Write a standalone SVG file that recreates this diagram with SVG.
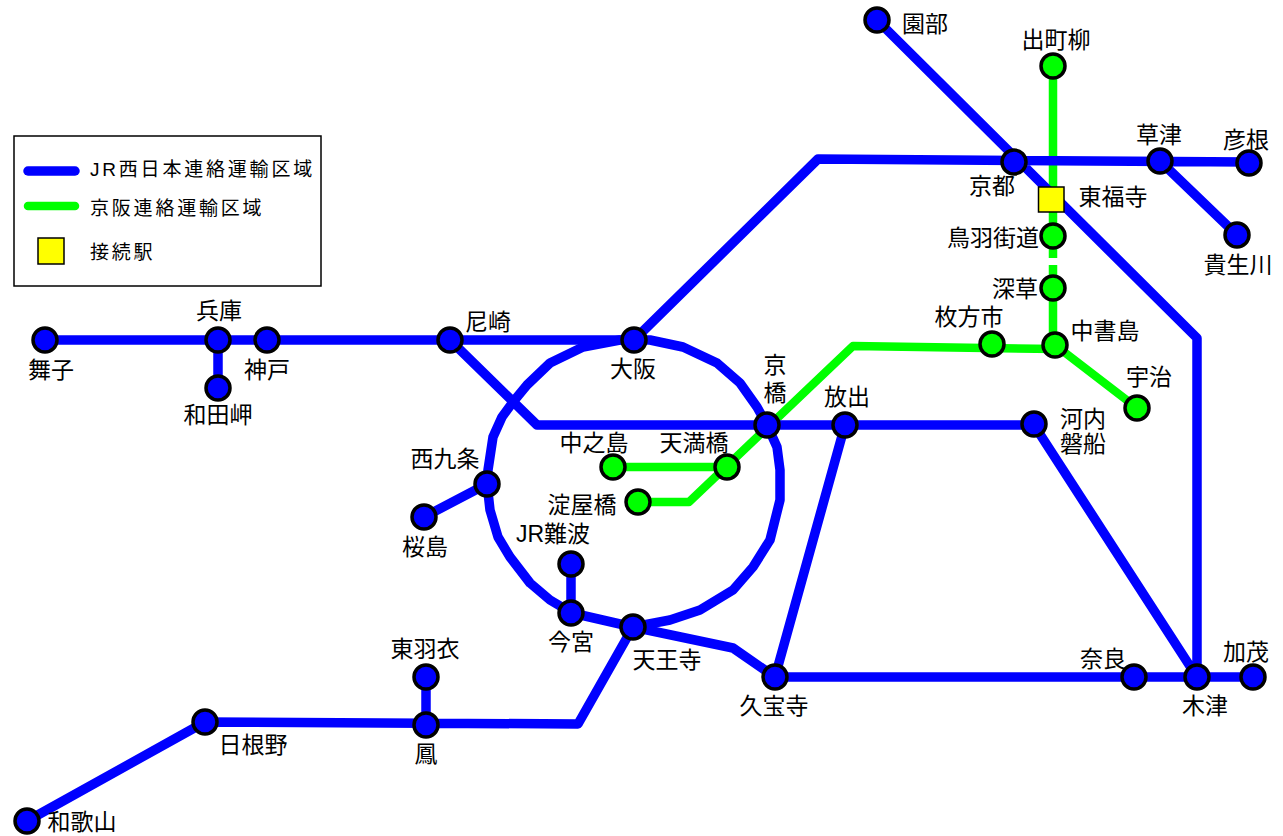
<svg xmlns="http://www.w3.org/2000/svg" width="1283" height="836" viewBox="0 0 1283 836">
<style>
text{font-family:"Liberation Sans","Noto Sans CJK JP",sans-serif;font-size:23px;fill:#000}
.m{text-anchor:middle}
.lg{font-size:19px;letter-spacing:2.8px}
.b{fill:none;stroke:#0000ff;stroke-width:9.5;stroke-linecap:round;stroke-linejoin:round}
.g{fill:none;stroke:#00ff00;stroke-width:8.5;stroke-linecap:round;stroke-linejoin:round}
.nb circle{fill:#0000ff;stroke:#000;stroke-width:3.5}
.ng circle{fill:#00ff00;stroke:#000;stroke-width:3.5}
</style>
<rect width="1283" height="836" fill="#fff"/>
<g id="legend">
<rect x="14" y="136" width="307" height="150" fill="#fff" stroke="#000" stroke-width="1.5"/>
<line x1="28" y1="171" x2="75" y2="171" class="b"/>
<line x1="28" y1="206" x2="75" y2="206" class="g"/>
<rect x="38" y="238" width="26" height="26" fill="#ffff00" stroke="#000" stroke-width="1.5"/>
<text x="90" y="176" class="lg">JR西日本連絡運輸区域</text>
<text x="90" y="215" class="lg">京阪連絡運輸区域</text>
<text x="90" y="259" class="lg">接続駅</text>
</g>
<g id="connectors">
<path class="g" style="stroke-linecap:butt" d="M1053 66V258M1053 265V345"/>
<path class="g" d="M1055 349L853 346L689 502H638M613 467H727M1055 345L1137 408"/>
<path class="b" d="M877 20L1197 338V677M45 340H634L818 159L1249 162M1160 161L1237 235M218 340V388M450 340L537 425H1034L1197 677M845 425L775 677H1253"/>
<path class="b" d="M620 340L650 340L683 347L717 363L740 383L757 407L767 425L777 447L780 470L780 500L770 540L753 567L733 590L700 610L670 620L633 627L572 613L550 600L530 583L510 557L498 537L490 510L487 483L488 470L493 437L502 417L513 402L527 385L550 363L583 347L620 340"/>
<path class="b" d="M487 484L424 517M571 564V613M633 627L733 648L775 677M633 627L578 724L205 722L27 821M426 677V725"/>
</g>
<g id="blue-stations" class="nb">
<g id="sonobe"><circle cx="877" cy="20" r="12"/><text x="902" y="32">園部</text></g>
<g id="kyoto"><circle cx="1014" cy="162" r="12"/><text x="992" y="194" class="m">京都</text></g>
<g id="kusatsu"><circle cx="1160" cy="161" r="12"/><text x="1159" y="143" class="m">草津</text></g>
<g id="hikone"><circle cx="1249" cy="163" r="12"/><text x="1246" y="148" class="m">彦根</text></g>
<g id="kibukawa"><circle cx="1237" cy="235" r="12"/><text x="1238" y="273" class="m">貴生川</text></g>
<g id="kawachi"><circle cx="1034" cy="424" r="12"/><text x="1060" y="427">河内</text><text x="1060" y="452">磐船</text></g>
<g id="hanaten"><circle cx="845" cy="425" r="12"/><text x="847" y="405" class="m">放出</text></g>
<g id="kyobashi"><circle cx="767" cy="425" r="12"/><text x="775" y="373" class="m">京</text><text x="775" y="401" class="m">橋</text></g>
<g id="osaka"><circle cx="634" cy="340" r="12"/><text x="633" y="377" class="m">大阪</text></g>
<g id="amagasaki"><circle cx="450" cy="340" r="12"/><text x="465" y="330">尼崎</text></g>
<g id="kobe"><circle cx="267" cy="340" r="12"/><text x="267" y="378" class="m">神戸</text></g>
<g id="hyogo"><circle cx="218" cy="340" r="12"/><text x="219" y="319" class="m">兵庫</text></g>
<g id="maiko"><circle cx="45" cy="340" r="12"/><text x="51" y="378" class="m">舞子</text></g>
<g id="wadamisaki"><circle cx="218" cy="388" r="12"/><text x="218" y="423" class="m">和田岬</text></g>
<g id="nishikujo"><circle cx="487" cy="484" r="12"/><text x="445" y="467" class="m">西九条</text></g>
<g id="sakurajima"><circle cx="424" cy="517" r="12"/><text x="425" y="555" class="m">桜島</text></g>
<g id="jrnamba"><circle cx="571" cy="564" r="12"/><text x="553" y="542" class="m">JR難波</text></g>
<g id="imamiya"><circle cx="571" cy="613" r="12"/><text x="571" y="650" class="m">今宮</text></g>
<g id="tennoji"><circle cx="633" cy="627" r="12"/><text x="667" y="668" class="m">天王寺</text></g>
<g id="kyuhoji"><circle cx="775" cy="677" r="12"/><text x="774" y="714" class="m">久宝寺</text></g>
<g id="nara"><circle cx="1134" cy="677" r="12"/><text x="1103" y="667" class="m">奈良</text></g>
<g id="kizu"><circle cx="1197" cy="677" r="12"/><text x="1205" y="714" class="m">木津</text></g>
<g id="kamo"><circle cx="1253" cy="677" r="12"/><text x="1246" y="660" class="m">加茂</text></g>
<g id="higashihagoromo"><circle cx="426" cy="677" r="12"/><text x="425" y="657" class="m">東羽衣</text></g>
<g id="otori"><circle cx="426" cy="725" r="12"/><text x="426" y="762" class="m">鳳</text></g>
<g id="hineno"><circle cx="205" cy="722" r="12"/><text x="253" y="753" class="m">日根野</text></g>
<g id="wakayama"><circle cx="27" cy="821" r="12"/><text x="82" y="830" class="m">和歌山</text></g>
</g>
<g id="green-stations" class="ng">
<g id="demachiyanagi"><circle cx="1053" cy="66" r="12"/><text x="1056" y="48" class="m">出町柳</text></g>
<g id="tobakaido"><circle cx="1053" cy="236" r="12"/><text x="993" y="246" class="m">鳥羽街道</text></g>
<g id="fukakusa"><circle cx="1053" cy="288" r="12"/><text x="1015" y="297" class="m">深草</text></g>
<g id="chushojima"><circle cx="1055" cy="345" r="12"/><text x="1105" y="339" class="m">中書島</text></g>
<g id="hirakatashi"><circle cx="992" cy="344" r="12"/><text x="969" y="325" class="m">枚方市</text></g>
<g id="uji"><circle cx="1137" cy="408" r="12"/><text x="1149" y="385" class="m">宇治</text></g>
<g id="nakanoshima"><circle cx="613" cy="467" r="12"/><text x="594" y="451" class="m">中之島</text></g>
<g id="tenmabashi"><circle cx="727" cy="467" r="12"/><text x="694" y="451" class="m">天満橋</text></g>
<g id="yodoyabashi"><circle cx="638" cy="502" r="12"/><text x="582" y="513" class="m">淀屋橋</text></g>
</g>
<g id="tofukuji"><rect x="1038.500" y="187" width="25.500" height="25" fill="#ffff00" stroke="#000" stroke-width="1.5"/><text x="1113" y="205" class="m">東福寺</text></g>
</svg>
